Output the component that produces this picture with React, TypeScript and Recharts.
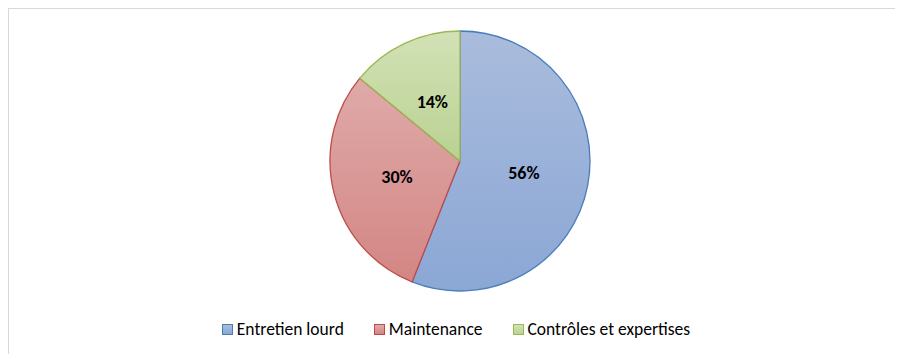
import { PieChart, Pie, Cell, Legend } from 'recharts';

// Répartition des dépenses
const categories = ['Entretien lourd', 'Maintenance', 'Contrôles et expertises'];
const shares = [56, 30, 14];

const FILL_TOP = ['#aabcdd', '#dfaaa9', '#d3e2b6'];
const FILL_BOTTOM = ['#8ba7d5', '#d38684', '#b9d192'];
const STROKES = ['#4a7ebb', '#be4b48', '#98b954'];

const FONT = "Carlito, 'Open Sans', sans-serif";

const data = categories.map((name, i) => ({ name, value: shares[i] }));

const RADIAN = Math.PI / 180;

function SliceLabel({ cx, cy, midAngle, outerRadius, value }: any) {
  const r = outerRadius * 0.5;
  const x = cx + r * Math.cos(-midAngle * RADIAN);
  const y = cy + r * Math.sin(-midAngle * RADIAN);
  return (
    <text x={x} y={y} textAnchor="middle" dominantBaseline="central" fontFamily={FONT} fontWeight={700} fontSize={18} fill="#000">
      {`${value}%`}
    </text>
  );
}

function LegendContent() {
  return (
    <div style={{ display: 'flex', justifyContent: 'center', gap: 30, fontFamily: FONT, fontSize: 17.5, lineHeight: '20px', color: '#000' }}>
      {categories.map((name, i) => (
        <div key={name} style={{ display: 'flex', alignItems: 'center' }}>
          <span
            style={{
              display: 'inline-block',
              width: 9,
              height: 9,
              marginRight: 4,
              border: `1px solid ${STROKES[i]}`,
              background: `linear-gradient(${FILL_TOP[i]}, ${FILL_BOTTOM[i]})`,
            }}
          />
          <span>{name}</span>
        </div>
      ))}
    </div>
  );
}

export default function App() {
  return (
    <div
      style={{
        position: 'relative',
        width: 895,
        height: 346,
        borderTop: '1px solid #d9d9d9',
        borderLeft: '1px solid #d9d9d9',
        background: '#fff',
      }}
    >
      <PieChart width={894} height={345} margin={{ top: 0, right: 0, bottom: 0, left: 0 }}>
        <defs>
          {categories.map((_, i) => (
            <linearGradient key={i} id={`slice-grad-${i}`} x1="0" y1="0" x2="0" y2="1">
              <stop offset="0%" stopColor={FILL_TOP[i]} />
              <stop offset="100%" stopColor={FILL_BOTTOM[i]} />
            </linearGradient>
          ))}
        </defs>
        <Pie
          data={data}
          dataKey="value"
          nameKey="name"
          cx={451}
          cy={152}
          outerRadius={130}
          startAngle={90}
          endAngle={-270}
          label={SliceLabel}
          labelLine={false}
          isAnimationActive={false}
        >
          {data.map((_, i) => (
            <Cell key={`cell-${i}`} fill={`url(#slice-grad-${i})`} stroke={STROKES[i]} strokeWidth={1.3} />
          ))}
        </Pie>
        <Legend
          verticalAlign="bottom"
          wrapperStyle={{ top: 310, left: 0, width: 894, bottom: 'auto' }}
          content={<LegendContent />}
        />
      </PieChart>
    </div>
  );
}
